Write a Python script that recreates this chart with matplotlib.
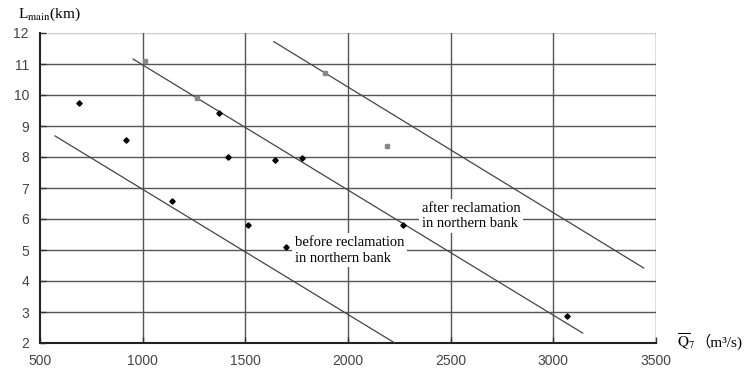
import matplotlib
matplotlib.use("Agg")
import matplotlib.pyplot as plt

# before reclamation (diamonds)
q_before = [690, 919, 1143, 1371, 1418, 1513, 1645, 1696, 1775, 2266, 3065]
l_before = [9.74, 8.55, 6.58, 9.42, 8.01, 5.81, 7.90, 5.11, 7.96, 5.82, 2.87]
# after reclamation (squares)
q_after = [1013, 1266, 1889, 2188]
l_after = [11.09, 9.90, 10.70, 8.35]

# fitted lines (end points)
line1_x = [573, 2228]
line1_y = [8.68, 2.0]
line2_x = [953, 3143]
line2_y = [11.16, 2.32]
line3_x = [1639, 3440]
line3_y = [11.72, 4.42]

xticks = [500, 1000, 1500, 2000, 2500, 3000, 3500]
yticks = list(range(2, 13))

fig = plt.figure(figsize=(7.51, 3.76), dpi=100)
ax = fig.add_axes([40 / 751, 1 - 343 / 376, 616 / 751, 310 / 376])

# grid
for y in yticks[1:]:
    c = "#cccccc" if y == 12 else "#555555"
    ax.axhline(y, color=c, lw=1.0, zorder=1)
for x in xticks[1:]:
    ax.axvline(x, color="#555555", lw=1.0, zorder=1)

ax.plot(line1_x, line1_y, color="#444444", lw=0.9, zorder=4)
ax.plot(line2_x, line2_y, color="#444444", lw=0.9, zorder=4)
ax.plot(line3_x, line3_y, color="#444444", lw=0.9, zorder=4)

ax.plot(q_before, l_before, "D", color="black", ms=2.7, zorder=5)
ax.plot(q_after, l_after, "s", color="#888888", ms=3.3, zorder=5)

bbox = dict(facecolor="white", edgecolor="none", pad=2)
ax.text(1740, 5.45, "before reclamation\nin northern bank", family="Liberation Serif",
        fontsize=10.5, va="top", ha="left", linespacing=1.25, bbox=bbox, zorder=3)
ax.text(2360, 6.55, "after reclamation\nin northern bank", family="Liberation Serif",
        fontsize=10.5, va="top", ha="left", linespacing=1.25, bbox=bbox, zorder=3)

ax.set_xlim(500, 3500)
ax.set_ylim(2, 12)
ax.set_xticks(xticks)
ax.set_yticks(yticks)
ax.tick_params(direction="in", length=4, width=1, colors="#333333", labelcolor="#444444",
               labelsize=10, pad=8)
for lab in ax.get_xticklabels() + ax.get_yticklabels():
    lab.set_family("Liberation Sans")
for s in ["top", "right"]:
    ax.spines[s].set_visible(False)
for s in ["left", "bottom"]:
    ax.spines[s].set_linewidth(1.5)
    ax.spines[s].set_color("#222222")

fig.text(18 / 751, 1 - 14 / 376, r"L$_{\mathrm{main}}$(km)", family="Liberation Serif",
         fontsize=11, va="center", ha="left", math_fontfamily="stix")
fig.text(677 / 751, 1 - 342 / 376, r"$\overline{\mathrm{Q}}_7$", fontsize=11,
         va="center", ha="left", math_fontfamily="stix")
fig.text(695 / 751, 1 - 342 / 376, "（m³/s)", family=["Liberation Serif", "Noto Sans CJK SC"],
         fontsize=11, va="center", ha="left")

fig.savefig("out.png", dpi=100)
